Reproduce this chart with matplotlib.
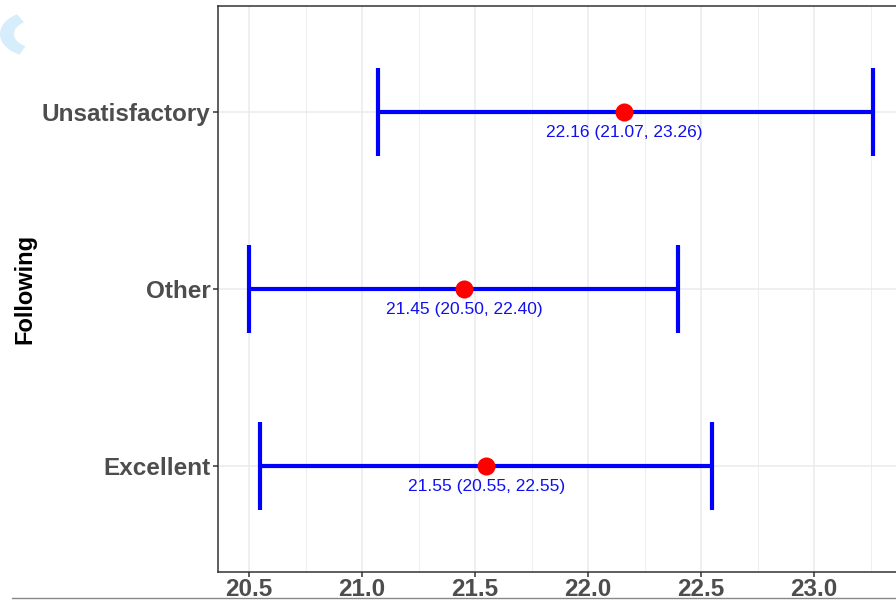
import matplotlib
matplotlib.use("Agg")
import matplotlib.pyplot as plt
from matplotlib.patches import Wedge
from matplotlib.lines import Line2D

categories = ["Excellent", "Other", "Unsatisfactory"]
estimate = [21.55, 21.45, 22.16]
lower = [20.55, 20.50, 21.07]
upper = [22.55, 22.40, 23.26]
x_ticks = [20.5, 21.0, 21.5, 22.0, 22.5, 23.0]

plt.rcParams["font.family"] = ["Liberation Sans", "DejaVu Sans"]

W, H = 896, 600
fig = plt.figure(figsize=(W / 100, H / 100), dpi=100)
# panel runs past the right edge, as in the cropped reference
ax = fig.add_axes([218 / W, 1 - 572 / H, 686 / W, 566 / H])

pos = list(range(1, len(categories) + 1))

# ggplot-like background
ax.set_xticks(x_ticks)
ax.set_xticks([v + 0.25 for v in x_ticks[:-1]] + [20.25, 23.25], minor=True)
ax.grid(True, which="major", color="#EBEBEB", lw=1.1)
ax.grid(True, which="minor", axis="x", color="#EBEBEB", lw=0.6)
ax.set_axisbelow(True)
ax.tick_params(axis="x", which="minor", length=0)
for s in ax.spines.values():
    s.set_color("#333333")
    s.set_linewidth(1.1)

blue = "#0000FF"
ax.hlines(pos, lower, upper, color=blue, lw=3.0, zorder=2)
ax.vlines(lower, [p - 0.25 for p in pos], [p + 0.25 for p in pos], color=blue, lw=3.0, zorder=2)
ax.vlines(upper, [p - 0.25 for p in pos], [p + 0.25 for p in pos], color=blue, lw=3.0, zorder=2)
ax.plot(estimate, pos, "o", color="#FF0000", ms=13, mec="none", zorder=3)

for e, lo, hi, p in zip(estimate, lower, upper, pos):
    ax.text(e, p - 0.115, f"{e:.2f} ({lo:.2f}, {hi:.2f})", color="#1010F0",
            fontsize=12.5, ha="center", va="center", zorder=4)

lo_all, hi_all = min(lower), max(upper)
pad = 0.05 * (hi_all - lo_all)
ax.set_xlim(lo_all - pad, hi_all + pad)
ax.set_ylim(0.4, len(categories) + 0.6)
ax.set_yticks(pos)
ax.set_yticklabels(categories)
ax.tick_params(axis="both", which="major", length=3.5, width=1.1, color="#333333",
               labelcolor="#4D4D4D", labelsize=17.5, pad=2)
ax.tick_params(axis="x", which="major", pad=1)
for lab in ax.get_xticklabels() + ax.get_yticklabels():
    lab.set_fontweight("bold")

fig.text(25 / W, 1 - 289 / H, "Following", rotation=90, ha="center", va="center",
         fontsize=17, fontweight="bold", color="black")

# bits of the surrounding page that show in the crop
fig.add_artist(Line2D([12 / W, 1], [1 - 598 / H] * 2, transform=fig.transFigure,
                      color="#888888", lw=1.0))
fig.add_artist(Wedge((34 / W, 1 - 34 / H), 34 / W, 120, 245, width=14 / W,
                     transform=fig.transFigure, color="#D6EEFC", lw=0))

fig.savefig("out.png", dpi=100)
